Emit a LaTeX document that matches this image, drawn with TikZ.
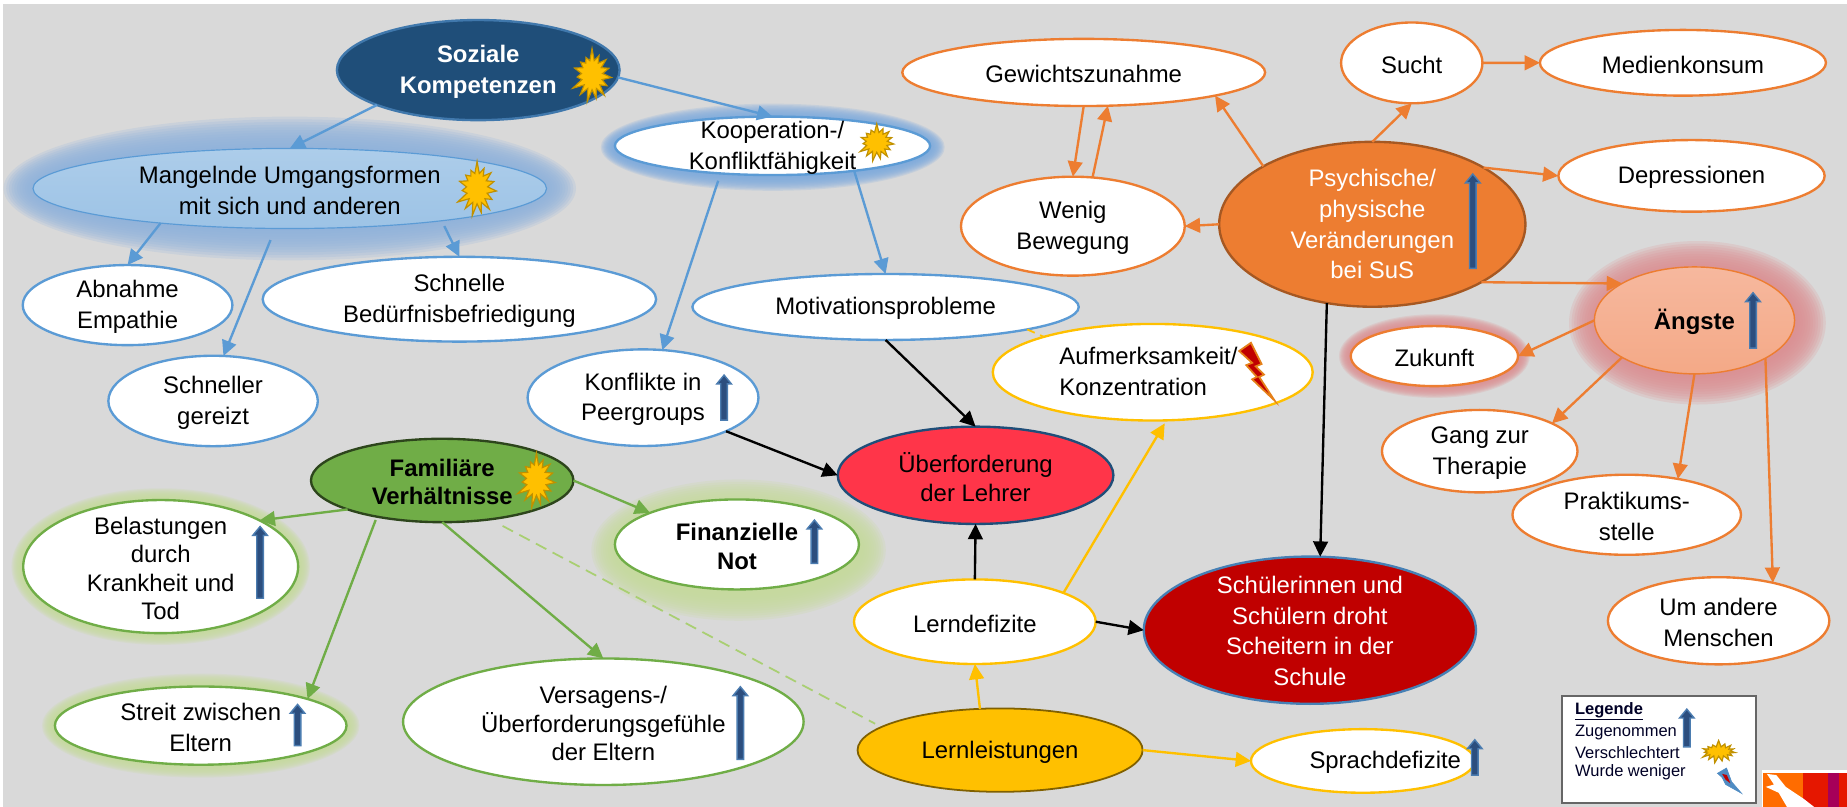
\documentclass[tikz,border=0pt]{standalone}
\usepackage{fontspec}
\setmainfont{Liberation Sans}
\usetikzlibrary{arrows.meta,shapes.geometric,shapes.symbols}
\definecolor{bgg}{HTML}{D9D9D9}
\definecolor{cblue}{HTML}{5B9BD5}
\definecolor{corange}{HTML}{ED7D31}
\definecolor{cyellow}{HTML}{FFC000}
\definecolor{cgreen}{HTML}{70AD47}
\definecolor{navy}{HTML}{1F4E79}
\definecolor{cred}{HTML}{FF3549}
\definecolor{dred}{HTML}{C00000}
\definecolor{goldline}{HTML}{C09000}
\definecolor{dashg}{HTML}{A9CF72}
\definecolor{haloblue}{HTML}{8FB2DE}
\definecolor{halokoo}{HTML}{7EABDF}
\definecolor{halogreen}{HTML}{C6DC9C}
\definecolor{halored}{HTML}{DE8E92}
\definecolor{arrowin}{HTML}{2C4E7E}
\definecolor{arrowout}{HTML}{4B7CB0}
\definecolor{angtop}{HTML}{F6B89E}
\definecolor{angbot}{HTML}{F4A987}
\tikzset{
  x=1pt,y=-1pt,
  oval/.style={ellipse,draw,line width=2pt,fill=white,inner sep=0pt,outer sep=0pt},
  ovb/.style={oval,draw=cblue},
  ovo/.style={oval,draw=corange},
  ovy/.style={oval,draw=cyellow},
  ovg/.style={oval,draw=cgreen},
  txt/.style={align=center,inner sep=0pt,font=\fontsize{20.3}{26}\selectfont},
  lnk/.style={line width=2pt,-{Triangle[length=13pt,width=12.5pt]}},
  ab/.style={lnk,draw=cblue},
  ao/.style={lnk,draw=corange},
  ay/.style={lnk,draw=cyellow},
  ag/.style={lnk,draw=cgreen},
  ak/.style={lnk,draw=black},
  burst/.style 2 args={starburst,starburst points=15,starburst point height=11pt,random starburst=7,fill=cyellow,draw=goldline,line width=1pt,inner sep=0pt,minimum width=#1,minimum height=#2},
  upa/.style={fill=arrowin,draw=arrowout,line width=1.2pt},
  bolt/.style={fill=dred,draw=orange!60!brown,line width=1.5pt},
  legtxt/.style={anchor=west,inner sep=0pt,font=\fontsize{14}{16}\selectfont,text=black!85!blue}
}
\newcommand\ov[8][]{%
  \node[#1,minimum width=#5*2pt,minimum height=#6*2pt] (#2) at (#3,#4) {};
  \node[txt] (#2t) at ([shift={#7},yshift=-1.5pt]#2.center) {#8};
}
\newcommand\halo[6]{%
  \foreach \gi in {0,...,11}{
    \fill[#6,opacity=.2] (#1,#2) ellipse [x radius={#3+#5*(1-\gi/11)},y radius={#4+#5*(1-\gi/11)}];
  }
}
\newcommand\uparr[3]{%
  \draw[upa] ({#1-2.8},#3) -- ({#1-2.8},{#2+7.5}) -- ({#1-6.2},{#2+7.5}) -- (#1,#2) -- ({#1+6.2},{#2+7.5}) -- ({#1+2.8},{#2+7.5}) -- ({#1+2.8},#3) -- cycle;
}
\begin{document}
\begin{tikzpicture}
\useasboundingbox (0,0) rectangle (1568,685);
\fill[white] (0,0) rectangle (1568,685);
\fill[bgg] (2.8,3.4) rectangle (1568,685);
% glows
\halo{246}{160}{218}{36}{25}{haloblue}
\halo{656}{125}{134}{25}{12}{halokoo}
\halo{627}{467}{103}{38}{22}{halogreen}
\halo{136.4}{481}{116.7}{56.5}{10}{halogreen}
\halo{170.4}{616}{123.8}{33.2}{11}{halogreen}
\halo{1441}{274}{85}{45.4}{24}{halored}
\halo{1217.7}{302.3}{71}{25.5}{10}{halored}
% nodes
\ov[oval,draw=cblue!55!navy,fill=navy]{soz}{406}{59.5}{120}{42.5}{(0,0)}{\color{white}\bfseries Soziale\\\color{white}\bfseries Kompetenzen}
\ov[oval,draw=cblue,line width=1pt,top color=cblue!50!white,bottom color=cblue!60!white]{man}{246}{160}{218}{34}{(0,0)}{Mangelnde Umgangsformen\\mit sich und anderen}
\ov[ovb]{koo}{655.8}{123.8}{133.8}{24.8}{(0,0)}{Kooperation-/\\Konfliktfähigkeit}
\ov[ovb]{abn}{108.3}{259}{89}{34}{(0,0)}{Abnahme\\Empathie}
\ov[ovb]{sch}{390}{254}{167}{36}{(0,0)}{Schnelle\\Bedürfnisbefriedigung}
\ov[ovb]{ger}{180.9}{340.4}{88.9}{38.4}{(0,0)}{Schneller\\gereizt}
\ov[ovb]{mot}{751.8}{260.6}{164}{28}{(0,0)}{Motivationsprobleme}
\ov[ovb]{kon}{545.9}{337.6}{98}{41}{(0,0)}{Konflikte in\\Peergroups}
\ov[ovy]{auf}{978.6}{316}{135.8}{41}{(-3.6,0)}{\begin{tabular}{@{}l@{}}Aufmerksamkeit/\\Konzentration\end{tabular}}
\ov[oval,draw=navy,fill=cred]{ueb}{828.2}{403.5}{117}{41.3}{(0,0)}{Überforderung\\[-2pt]der Lehrer}
\ov[oval,draw=black!60!cgreen,fill=cgreen]{fam}{375.4}{407.9}{111.4}{35.4}{(0,0)}{\bfseries Familiäre\\[-2pt]\bfseries Verhältnisse}
\ov[ovg]{fin}{625.6}{462.2}{103.6}{38.2}{(0,0)}{\bfseries Finanzielle\\[-1pt]\bfseries Not}
\ov[ovg]{bel}{136.4}{481}{116.7}{56.5}{(0,0)}{Belastungen\\[-2pt]durch\\[-2pt]Krankheit und\\[-2pt]Tod}
\ov[ovg]{str}{170.4}{616}{123.8}{33.2}{(0,0)}{Streit zwischen\\Eltern}
\ov[ovg]{ver}{512.2}{612.7}{170}{53.7}{(0,0)}{Versagens-/\\[-1.5pt]Überforderungsgefühle\\[-1.5pt]der Eltern}
\ov[ovy]{lde}{827.6}{527.8}{102.6}{35.9}{(0,0)}{Lerndefizite}
\ov[oval,draw=cyellow!50!black,line width=1.5pt,fill=cyellow]{lle}{849}{636.8}{121}{35.4}{(0,0)}{Lernleistungen}
\ov[ovy]{spr}{1157}{646}{95}{27}{(19,0)}{Sprachdefizite}
\ov[oval,draw=cblue!65!navy,fill=dred]{sue}{1112}{535}{141}{62.5}{(0,-1)}{\color{white}Schülerinnen und\\\color{white}Schülern droht\\\color{white}Scheitern in der\\\color{white}Schule}
\ov[ovo]{gew}{920}{61.5}{154}{28.5}{(0,0)}{Gewichtszunahme}
\ov[ovo]{suc}{1198.5}{53.4}{60}{34.3}{(0,0)}{Sucht}
\ov[ovo]{med}{1428.7}{53.3}{121.4}{27.9}{(0,0)}{Medienkonsum}
\ov[ovo]{dep}{1436}{149.3}{113}{30.4}{(0,0)}{Depressionen}
\ov[ovo]{wen}{910.8}{192}{95}{42}{(0,0)}{Wenig\\Bewegung}
\ov[oval,draw=corange!70!black,fill=corange]{psy}{1165}{190.4}{130}{70}{(0,-1.5)}{\color{white}Psychische/\\\color{white}physische\\\color{white}Veränderungen\\\color{white}bei SuS}
\ov[oval,draw=corange,line width=1.2pt,top color=angtop,bottom color=angbot]{ang}{1438.5}{272}{85}{45.4}{(0,0)}{\bfseries Ängste}
\ov[ovo]{zuk}{1217.7}{302.3}{71}{25.5}{(0,0)}{Zukunft}
\ov[ovo]{the}{1256.2}{383}{83}{35}{(0,0)}{Gang zur\\Therapie}
\ov[ovo]{pra}{1381}{437}{97}{34}{(0,0)}{Praktikums-\\stelle}
\ov[ovo]{uma}{1459}{527}{94}{37}{(0,0)}{Um andere\\Menschen}
% connectors
\draw[ab] (soz.199.2) -- (man.north);
\draw[ab] (soz.-3) -- (koo.north);
\draw[ab] (man.195.9) -- (abn.north);
\draw[ab,shorten <=5pt] (man.-12.4) -- (sch.north);
\draw[ab,shorten <=10.6pt] (man.250.4) -- (ger.77.2);
\draw[ab,shorten <=6.5pt] (koo.208.5) -- (kon.68.7);
\draw[ab] (koo.-17.7) -- (mot.north);
\draw[ak] (mot.south) -- (ueb.north);
\draw[ak] (kon.-22.5) -- (ueb.west);
\draw[ak] (lde.north) -- (ueb.south);
\draw[ak] (lde.east) -- (sue.west);
\draw[ay,shorten >=3pt] (lde.18.7) -- (auf.-74.9);
\draw[ay] (lle.116) -- (lde.south);
\draw[ay] (lle.east) -- (spr.west);
\draw[ag] (fam.197.2) -- (bel.25.6);
\draw[ag,shorten <=3pt] (fam.209.3) -- (str.14.7);
\draw[ag] (fam.south) -- (ver.north);
\draw[ag] (fam.east) -- (fin.160);
\draw[dashg,line width=1.5pt,dash pattern=on 10pt off 6pt,shorten <=12pt,shorten >=6pt] (fam.-39.7) -- (lle.169.2);
\draw[cyellow,line width=1.5pt,dash pattern=on 7pt off 5pt] (mot.-9.8) -- (auf.162.5);
\draw[ao] (psy.152) -- (gew.-10.4);
\draw[ao] (psy.north) -- (suc.south);
\draw[ao] (suc.east) -- (med.west);
\draw[ao] (psy.27.8) -- (dep.west);
\draw[ao] (psy.west) -- (wen.east);
\draw[ao] (psy.-28.2) -- (ang.153.3);
\draw[ao] (ang.west) -- (zuk.east);
\draw[ao] (ang.207.6) -- (the.21.9);
\draw[ao] (ang.south) -- (pra.35.6);
\draw[ao] (ang.-28.5) -- (uma.35);
\draw[ak] (psy.240.7) -- (sue.82.7);
\draw[ao] (gew.south) -- (wen.north);
\draw[ao] (wen.68.9) -- (gew.-54.7);
% icons
\node[burst={40pt}{47pt}] (b1) at (502.6,63.7) {};
\node[burst={40pt}{48pt}] (b2) at (405,160) {};
\node[burst={34pt}{33pt},starburst point height=8pt] (b3) at (744.3,120.8) {};
\node[burst={39pt}{48pt}] (b4) at (455.4,407.5) {};
\uparr{614.7}{318.4}{356.6}
\uparr{691.4}{441.5}{478.3}
\uparr{220.8}{447}{507.9}
\uparr{252.6}{598}{633}
\uparr{628.5}{583}{644.7}
\uparr{1252}{628}{658}
\uparr{1250.3}{147.7}{227.8}
\uparr{1488.2}{248.5}{295.6}
\draw[bolt] (1052,298) -- (1062,291) -- (1071,309) -- (1066,311) -- (1073,318) -- (1069,320) -- (1082,340) -- (1063,322) -- (1067,320) -- (1058,310) -- (1063,308) -- cycle;
% legend
\node[draw=black!60,line width=1.5pt,fill=white,minimum width=165pt,minimum height=91pt,inner sep=0pt] (leg) at (1408.5,636.5) {};
\node[legtxt,font=\fontsize{14}{16}\selectfont\bfseries] (l1) at (1337,604) {\underline{Legende}};
\node[legtxt] (l2) at (1337,622) {Zugenommen};
\node[legtxt] (l3) at (1337,639) {Verschlechtert};
\node[legtxt] (l4) at (1337,656) {Wurde weniger};
\uparr{1432}{602}{634}
\node[burst={32pt}{20pt},starburst point height=6pt] (b5) at (1459,638) {};
\draw[fill=cblue!80!navy,draw=cblue!80!navy,line width=.5pt] (1458,656.5) -- (1465.7,652) -- (1470,663.6) -- (1478.5,673.5) -- (1465,666) -- (1462,660) -- cycle;
\fill[dred] (1462,657) -- (1466,658) -- (1469,665) -- (1465,662) -- cycle;
% logo
\fill[white] (1496,654) rectangle (1568,685);
\fill[orange!85!red] (1497,656) rectangle (1531,685);
\fill[red!80!orange!90!black] (1531,656) rectangle (1552,685);
\fill[violet!70!red] (1552,656) rectangle (1561,685);
\fill[red!80!orange!90!black] (1561,656) rectangle (1568,685);
\fill[white] (1500,657) -- (1508,658) -- (1516,668) -- (1531,678) -- (1540,685) -- (1517,685) -- (1510,673) -- (1499,668) -- (1506,666) -- cycle;
\end{tikzpicture}
\end{document}
